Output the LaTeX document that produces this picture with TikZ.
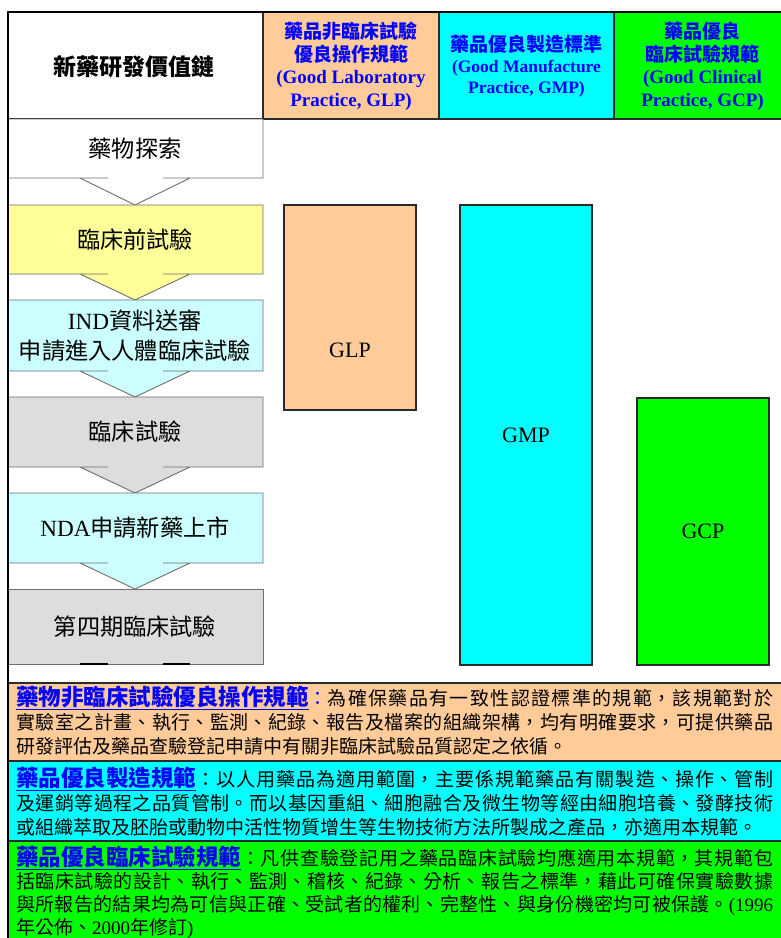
\documentclass[tikz,border=0pt]{standalone}
\usepackage{fontspec}
\setmainfont{Liberation Serif}
\newfontfamily\cjk{Noto Sans CJK TC}
\XeTeXlinebreaklocale "zh"
\XeTeXlinebreakskip=0pt plus 2pt
\definecolor{peach}{HTML}{FFCC99}
\definecolor{cyanc}{HTML}{00FFFF}
\definecolor{greenc}{HTML}{00FF00}
\definecolor{paleyellow}{HTML}{FFFF99}
\definecolor{palecyan}{HTML}{CCFFFF}
\definecolor{palegray}{HTML}{DDDDDD}
\definecolor{hblue}{HTML}{0000FF}
\definecolor{boxline}{HTML}{6E6E6E}
\definecolor{barline}{HTML}{2A2A2A}
\newcommand\flowcallout[4]{%
  \filldraw[flowbox, fill=#1] (8,#2) -- (263,#2) -- (263,#3) -- (163,#3) -- (190,#3) -- (135,#4) -- (80,#3) -- (108,#3) -- (8,#3) -- cycle;}
\begin{document}
\begin{tikzpicture}[x=1pt,y=-1pt,
  flowbox/.style={draw=boxline, line width=0.9pt},
  hdrcell/.style={draw=barline, line width=1.2pt},
  bar/.style={draw=barline, line width=1.3pt},
  txtbox/.style={draw=barline, line width=1.6pt},
  boxtext/.style={font=\cjk\fontsize{23.2}{30}\selectfont, align=center, inner sep=0pt},
  hdr/.style={text=hblue, font=\bfseries\fontsize{19}{22.5}\selectfont, align=center, inner sep=0pt},
  para/.style={anchor=north west, text width=757pt, align=justify, inner sep=0pt, font=\cjk\fontsize{19}{24}\selectfont},
  barlabel/.style={font=\fontsize{22}{26}\selectfont, inner sep=0pt}
]
\useasboundingbox (0,0) rectangle (781,938);
\clip (0,0) rectangle (781,938);
\fill[white] (0,0) rectangle (781,938);

% header cells
\filldraw[hdrcell, fill=white] (8,12) rectangle (263,119);
\filldraw[hdrcell, fill=peach] (263,12) rectangle (439,119);
\filldraw[hdrcell, fill=cyanc] (439,12) rectangle (614,119);
\filldraw[hdrcell, fill=greenc] (614,12) rectangle (795,119);

\node[font=\cjk\bfseries\fontsize{23}{26}\selectfont, inner sep=0pt] (hchain) at (134,67) {新藥研發價值鏈};
\node[hdr] (hglp) at (351,66.5) {{\cjk 藥品非臨床試驗}\\{\cjk 優良操作規範}\\(Good Laboratory\\Practice, GLP)};
\node[hdr, font=\bfseries\fontsize{17.5}{21}\selectfont] (hgmp) at (526.5,66) {{\cjk\fontsize{19}{22}\selectfont 藥品優良製造標準}\\(Good Manufacture\\Practice, GMP)};
\node[hdr] (hgcp) at (702.5,66.5) {{\cjk 藥品優良}\\{\cjk 臨床試驗規範}\\(Good Clinical\\Practice, GCP)};

% flow column
\flowcallout{white}{119}{178}{205}
\flowcallout{paleyellow}{205}{274}{300}
\flowcallout{palecyan}{300}{371}{397}
\flowcallout{palegray}{397}{467}{493}
\flowcallout{palecyan}{493}{563}{589}
\filldraw[flowbox, fill=palegray] (8,589) rectangle (263,664);
\draw[line width=1.4pt, black] (80,664) -- (108,664) (163,664) -- (190,664);

\node[boxtext] (s1) at (135,148.5) {藥物探索};
\node[boxtext] (s2) at (135,239.5) {臨床前試驗};
\node[boxtext] (s3) at (135,335.5) {{\rmfamily IND}資料送審\\申請進入人體臨床試驗};
\node[boxtext] (s4) at (135,432) {臨床試驗};
\node[boxtext] (s5) at (135,528) {{\rmfamily NDA}申請新藥上市};
\node[boxtext] (s6) at (135,626.5) {第四期臨床試驗};

% bars
\filldraw[bar, fill=peach] (284,205) rectangle (416,410);
\filldraw[bar, fill=cyanc] (460,205) rectangle (592,665);
\filldraw[bar, fill=greenc] (637,398) rectangle (769,665);
\node[barlabel] (lglp) at (350,350) {GLP};
\node[barlabel] (lgmp) at (526,435) {GMP};
\node[barlabel] (lgcp) at (703,531) {GCP};

% text boxes
\filldraw[txtbox, fill=peach] (8,683) rectangle (795,761);
\filldraw[txtbox, fill=cyanc] (8,761) rectangle (795,841);
\filldraw[txtbox, fill=greenc] (8,841) rectangle (795,950);

\node[para] (pglp) at (16,686) {{\bfseries\fontsize{22.5}{24}\selectfont\color{hblue}\underline{藥物非臨床試驗優良操作規範}}{\color{hblue}：}為確保藥品有一致性認證標準的規範，該規範對於\linebreak 實驗室之計畫、執行、監測、紀錄、報告及檔案的組織架構，均有明確要求，可提供藥品\linebreak 研發評估及藥品查驗登記申請中有關非臨床試驗品質認定之依循。};
\node[para] (pgmp) at (16,767) {{\bfseries\fontsize{22.5}{24}\selectfont\color{hblue}\underline{藥品優良製造規範}}：以人用藥品為適用範圍，主要係規範藥品有關製造、操作、管制\linebreak 及運銷等過程之品質管制。而以基因重組、細胞融合及微生物等經由細胞培養、發酵技術\linebreak 或組織萃取及胚胎或動物中活性物質增生等生物技術方法所製成之產品，亦適用本規範。};
\node[para, font=\cjk\fontsize{19}{23}\selectfont] (pgcp) at (16,846) {{\bfseries\fontsize{22.5}{23}\selectfont\color{hblue}\underline{藥品優良臨床試驗規範}}：凡供查驗登記用之藥品臨床試驗均應適用本規範，其規範包\linebreak 括臨床試驗的設計、執行、監測、稽核、紀錄、分析、報告之標準，藉此可確保實驗數據\linebreak 與所報告的結果均為可信與正確、受試者的權利、完整性、與身份機密均可被保護。{\rmfamily(1996}\linebreak 年公佈、{\rmfamily 2000}年修訂{\rmfamily)}};

% frame
\draw[line width=1.6pt, black] (8,12) -- (795,12);
\draw[line width=1.6pt, black] (8,12) -- (8,950);
\end{tikzpicture}
\end{document}
